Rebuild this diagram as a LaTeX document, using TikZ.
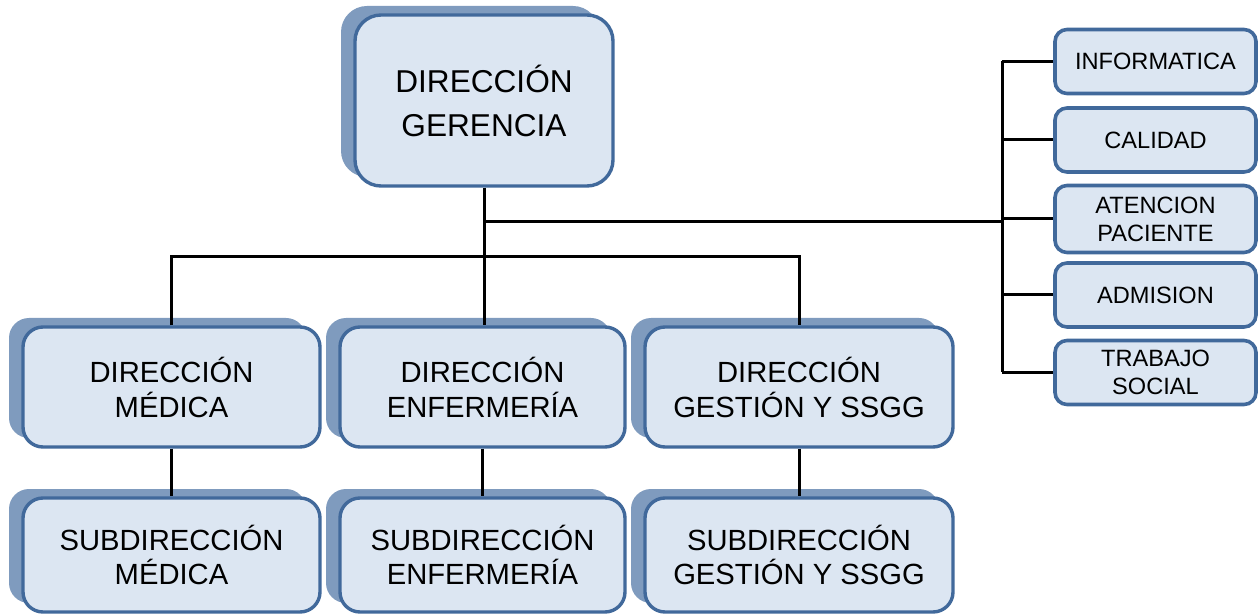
\documentclass[tikz,border=0pt]{standalone}
\usepackage{fontspec}
\setmainfont{Liberation Sans}
\usetikzlibrary{shadows}
\definecolor{boxfill}{RGB}{220,230,242}
\definecolor{boxline}{RGB}{65,105,155}
\definecolor{boxshadow}{RGB}{127,155,190}
\tikzset{
  unit/.style={draw=boxline, line width=1.7pt, fill=boxfill, rounded corners=10pt,
    align=center, inner sep=2pt, text=black,
    general shadow={fill=boxshadow, shadow xshift=-7pt, shadow yshift=4.5pt}},
  topbox/.style={unit, rounded corners=13pt, minimum width=129pt, minimum height=85.5pt,
    font=\fontsize{15.8pt}{22pt}\selectfont},
  midbox/.style={unit, minimum height=60pt, font=\fontsize{14.6pt}{17.5pt}\selectfont},
  lowbox/.style={unit, minimum height=57pt, font=\fontsize{14.6pt}{17pt}\selectfont},
  sidebox/.style={draw=boxline, line width=1.8pt, fill=boxfill, rounded corners=6pt,
    align=center, inner sep=1pt, minimum width=100.5pt, minimum height=32pt,
    font=\fontsize{11.8pt}{14pt}\selectfont},
  conn/.style={draw=black, line width=1.5pt}
}
\begin{document}
\begin{tikzpicture}[x=0.5pt,y=-0.5pt]
\useasboundingbox (0,0) rectangle (1258,614);
% top
\node[topbox] (gerencia) at (484,100.5) {DIRECCIÓN\\GERENCIA};
% middle row
\node[midbox, minimum width=148.5pt] (dmed) at (171.5,387) {DIRECCIÓN\\MÉDICA};
\node[midbox, minimum width=142.5pt] (denf) at (482.5,387) {DIRECCIÓN\\ENFERMERÍA};
\node[midbox, minimum width=154pt] (dges) at (799,387) {DIRECCIÓN\\GESTIÓN Y SSGG};
% bottom row
\node[lowbox, minimum width=148.5pt] (smed) at (171.5,555) {SUBDIRECCIÓN\\MÉDICA};
\node[lowbox, minimum width=142.5pt] (senf) at (482.5,555) {SUBDIRECCIÓN\\ENFERMERÍA};
\node[lowbox, minimum width=154pt] (sges) at (799,555) {SUBDIRECCIÓN\\GESTIÓN Y SSGG};
% side column
\node[sidebox] (info) at (1155.5,61.5) {INFORMATICA};
\node[sidebox] (cal) at (1155.5,140) {CALIDAD};
\node[sidebox, minimum height=33.5pt] (aten) at (1155.5,219) {ATENCION\\PACIENTE};
\node[sidebox] (adm) at (1155.5,295) {ADMISION};
\node[sidebox] (trab) at (1155.5,372.5) {TRABAJO\\SOCIAL};
% connectors
\coordinate (bar) at (483,257);
\coordinate (rb) at (1002,222);
\draw[conn] (gerencia.south) -- (gerencia.south |- denf.north);
\draw[conn] (dmed.north) -- (dmed.north |- bar) -- (dges.north |- bar) -- (dges.north);
\draw[conn] (gerencia.south |- rb) -- (rb);
\draw[conn] (rb |- info.west) -- (rb |- trab.west);
\foreach \n in {info,cal,aten,adm,trab}{
  \draw[conn] (rb |- \n.west) -- (\n.west);
}
\draw[conn] (dmed.south) -- (smed.north);
\draw[conn] (denf.south) -- (senf.north);
\draw[conn] (dges.south) -- (sges.north);
\end{tikzpicture}
\end{document}
